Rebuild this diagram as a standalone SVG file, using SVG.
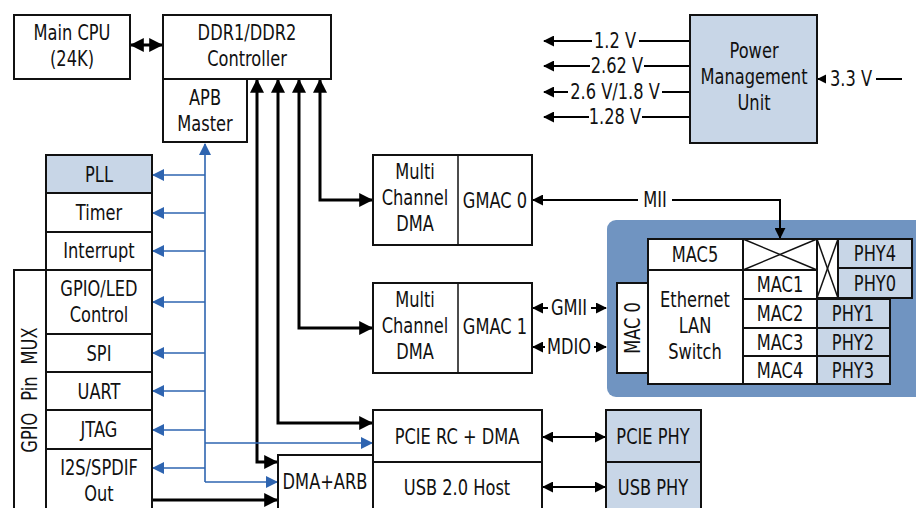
<svg xmlns="http://www.w3.org/2000/svg" width="916" height="508" viewBox="0 0 916 508">
<defs>
<style>
.b{fill:#fff;stroke:#111;stroke-width:2}
.l{fill:#c8d6e7;stroke:#111;stroke-width:2}
.t{font-family:"DejaVu Sans Condensed","DejaVu Sans","Liberation Sans",sans-serif;font-size:21px;fill:#111;text-anchor:middle;transform-box:fill-box;transform-origin:center;transform:scaleX(0.86)}
.r{font-family:"DejaVu Sans Condensed","DejaVu Sans","Liberation Sans",sans-serif;font-size:21px;fill:#111;text-anchor:middle}
.k{fill:none;stroke:#000;stroke-width:3}
.kt{fill:none;stroke:#000;stroke-width:2}
.u{fill:none;stroke:#2e64b0;stroke-width:1.6}
.x{stroke:#111;stroke-width:1.5}
</style>
<marker id="ak" viewBox="0 0 12 12" refX="11" refY="6" markerWidth="14" markerHeight="14" markerUnits="userSpaceOnUse" orient="auto-start-reverse"><path d="M0,0 L12,6 L0,12 z" fill="#000"/></marker>
<marker id="as" viewBox="0 0 12 12" refX="11" refY="6" markerWidth="11" markerHeight="11" markerUnits="userSpaceOnUse" orient="auto-start-reverse"><path d="M0,0 L12,6 L0,12 z" fill="#000"/></marker>
<marker id="au" viewBox="0 0 12 12" refX="11" refY="6" markerWidth="12" markerHeight="12" markerUnits="userSpaceOnUse" orient="auto-start-reverse"><path d="M0,0 L12,6 L0,12 z" fill="#2e64b0"/></marker>
</defs>
<rect width="916" height="508" fill="#fff"/>

<rect id="panel" x="607" y="220" width="330" height="177" rx="9" fill="#7094c1"/>

<g id="connectors">
<path class="k" d="M131,45 H162" marker-start="url(#ak)" marker-end="url(#ak)"/>
<path class="k" d="M257,80 V462 H277" marker-start="url(#ak)" marker-end="url(#ak)"/>
<path class="k" d="M278,80 V423 H372" marker-start="url(#ak)" marker-end="url(#ak)"/>
<path class="k" d="M299,80 V328 H372" marker-start="url(#ak)" marker-end="url(#ak)"/>
<path class="k" d="M320,80 V200 H372" marker-start="url(#ak)" marker-end="url(#ak)"/>
<path class="k" d="M153,500 H277" marker-end="url(#ak)"/>
<path class="u" d="M205,144 V482"/>
<path class="u" d="M205,146 V144" marker-end="url(#au)"/>
<path class="u" d="M205,175 H153" marker-end="url(#au)"/>
<path class="u" d="M205,213 H153" marker-end="url(#au)"/>
<path class="u" d="M205,251 H153" marker-end="url(#au)"/>
<path class="u" d="M205,302 H153" marker-end="url(#au)"/>
<path class="u" d="M205,353 H153" marker-end="url(#au)"/>
<path class="u" d="M205,391 H153" marker-end="url(#au)"/>
<path class="u" d="M205,430 H153" marker-end="url(#au)"/>
<path class="u" d="M205,468 H153" marker-end="url(#au)"/>
<path class="u" d="M205,443 H372" marker-end="url(#au)"/>
<path class="u" d="M205,482 H277" marker-end="url(#au)"/>
<path class="kt" d="M533,200 H780 V238" marker-start="url(#as)" marker-end="url(#as)"/>
<path class="kt" d="M533,308 H606" marker-start="url(#as)" marker-end="url(#as)"/>
<path class="kt" d="M533,347 H606" marker-start="url(#as)" marker-end="url(#as)"/>
<path class="kt" d="M543,437 H605" marker-start="url(#as)" marker-end="url(#as)"/>
<path class="kt" d="M543,487 H605" marker-start="url(#as)" marker-end="url(#as)"/>
<path class="kt" d="M690,41 H544" marker-end="url(#as)"/>
<path class="kt" d="M690,66 H544" marker-end="url(#as)"/>
<path class="kt" d="M690,92 H544" marker-end="url(#as)"/>
<path class="kt" d="M690,117 H544" marker-end="url(#as)"/>
<path class="kt" d="M902,79 H818" marker-end="url(#as)"/>
<g fill="#fff">
<rect x="638" y="189" width="34" height="22"/>
<rect x="548" y="297" width="43" height="22"/>
<rect x="545" y="336" width="49" height="22"/>
<rect x="592" y="30" width="47" height="22"/>
<rect x="590" y="55" width="54" height="22"/>
<rect x="568" y="81" width="94" height="22"/>
<rect x="589" y="106" width="53" height="22"/>
<rect x="826" y="68" width="50" height="22"/>
</g>
<g>
<text class="t" x="655" y="207">MII</text>
<text class="t" x="569" y="315">GMII</text>
<text class="t" x="569" y="354">MDIO</text>
<text class="t" x="615" y="48">1.2 V</text>
<text class="t" x="617" y="73">2.62 V</text>
<text class="t" x="615" y="99">2.6 V/1.8 V</text>
<text class="t" x="615" y="124">1.28 V</text>
<text class="t" x="851" y="86">3.3 V</text>
</g>
</g>

<g id="main-cpu"><rect class="b" x="14" y="15" width="116" height="64"/><text class="t" x="72" y="40">Main CPU</text><text class="t" x="72" y="66">(24K)</text></g>
<g id="ddr"><rect class="b" x="163" y="15" width="168" height="64"/><text class="t" x="247" y="40">DDR1/DDR2</text><text class="t" x="247" y="66">Controller</text></g>
<g id="apb"><rect class="b" x="163" y="79" width="84" height="63"/><text class="t" x="205" y="105">APB</text><text class="t" x="205" y="131">Master</text></g>

<g id="power"><rect class="l" x="690" y="15" width="127" height="128"/><text class="t" x="754" y="58">Power</text><text class="t" x="754" y="84">Management</text><text class="t" x="754" y="110">Unit</text></g>

<g id="gpio-mux"><rect class="b" x="14" y="270" width="32" height="250"/><text class="r" transform="translate(37,390) rotate(-90) scale(0.86,1)" word-spacing="8">GPIO Pin MUX</text></g>
<g id="pll"><rect class="l" x="46" y="155" width="106" height="38"/><text class="t" x="99" y="182">PLL</text></g>
<g id="timer"><rect class="b" x="46" y="193" width="106" height="39"/><text class="t" x="99" y="220">Timer</text></g>
<g id="interrupt"><rect class="b" x="46" y="232" width="106" height="38"/><text class="t" x="99" y="258">Interrupt</text></g>
<g id="gpio-led"><rect class="b" x="46" y="270" width="106" height="64"/><text class="t" x="99" y="296">GPIO/LED</text><text class="t" x="99" y="322">Control</text></g>
<g id="spi"><rect class="b" x="46" y="334" width="106" height="38"/><text class="t" x="99" y="361">SPI</text></g>
<g id="uart"><rect class="b" x="46" y="372" width="106" height="38"/><text class="t" x="99" y="399">UART</text></g>
<g id="jtag"><rect class="b" x="46" y="410" width="106" height="39"/><text class="t" x="99" y="437">JTAG</text></g>
<g id="i2s"><rect class="b" x="46" y="449" width="106" height="70"/><text class="t" x="99" y="475">I2S/SPDIF</text><text class="t" x="99" y="501">Out</text></g>

<g id="dma0"><rect class="b" x="373" y="155" width="159" height="90"/><line class="x" x1="458" y1="155" x2="458" y2="245" stroke-width="2"/><text class="t" x="415" y="179">Multi</text><text class="t" x="415" y="205">Channel</text><text class="t" x="415" y="231">DMA</text><text class="t" x="495" y="208">GMAC 0</text></g>
<g id="dma1"><rect class="b" x="373" y="283" width="159" height="90"/><line class="x" x1="458" y1="283" x2="458" y2="373" stroke-width="2"/><text class="t" x="415" y="307">Multi</text><text class="t" x="415" y="333">Channel</text><text class="t" x="415" y="359">DMA</text><text class="t" x="495" y="334">GMAC 1</text></g>

<g id="pcie"><rect class="b" x="373" y="410" width="169" height="52"/><text class="t" x="457" y="444">PCIE RC + DMA</text></g>
<g id="usb"><rect class="b" x="373" y="462" width="169" height="60"/><text class="t" x="457" y="495">USB 2.0 Host</text></g>
<g id="dma-arb"><rect class="b" x="278" y="455" width="95" height="65"/><text class="t" x="325" y="489">DMA+ARB</text></g>
<g id="pcie-phy"><rect class="l" x="606" y="410" width="95" height="52"/><text class="t" x="653" y="444">PCIE PHY</text></g>
<g id="usb-phy"><rect class="l" x="606" y="462" width="95" height="60"/><text class="t" x="653" y="495">USB PHY</text></g>

<g id="mac0"><rect class="b" x="617" y="283" width="31" height="90"/><text class="r" transform="translate(640,328) rotate(-90) scale(0.86,1)">MAC 0</text></g>
<g id="switch"><rect class="b" x="648" y="270" width="95" height="114"/><text class="t" x="695" y="307">Ethernet</text><text class="t" x="695" y="333">LAN</text><text class="t" x="695" y="359">Switch</text></g>
<g id="mac5"><rect class="b" x="648" y="239" width="95" height="31"/><text class="t" x="695" y="262">MAC5</text></g>
<g id="cross1"><rect class="b" x="743" y="239" width="74" height="31"/><line class="x" x1="743" y1="239" x2="817" y2="270"/><line class="x" x1="743" y1="270" x2="817" y2="239"/></g>
<g id="cross2"><rect class="b" x="817" y="239" width="21" height="59"/><line class="x" x1="817" y1="239" x2="838" y2="298"/><line class="x" x1="817" y1="298" x2="838" y2="239"/></g>
<g id="phy4"><rect class="l" x="838" y="239" width="74" height="29"/><text class="t" x="875" y="261">PHY4</text></g>
<g id="phy0"><rect class="l" x="838" y="268" width="74" height="30"/><text class="t" x="875" y="291">PHY0</text></g>
<g id="mac1"><rect class="b" x="743" y="270" width="74" height="29"/><text class="t" x="780" y="292">MAC1</text></g>
<g id="mac2"><rect class="b" x="743" y="299" width="74" height="29"/><text class="t" x="780" y="321">MAC2</text></g>
<g id="mac3"><rect class="b" x="743" y="328" width="74" height="28"/><text class="t" x="780" y="350">MAC3</text></g>
<g id="mac4"><rect class="b" x="743" y="356" width="74" height="28"/><text class="t" x="780" y="378">MAC4</text></g>
<g id="phy1"><rect class="l" x="817" y="299" width="73" height="29"/><text class="t" x="853" y="321">PHY1</text></g>
<g id="phy2"><rect class="l" x="817" y="328" width="73" height="28"/><text class="t" x="853" y="350">PHY2</text></g>
<g id="phy3"><rect class="l" x="817" y="356" width="73" height="28"/><text class="t" x="853" y="378">PHY3</text></g>
</svg>
